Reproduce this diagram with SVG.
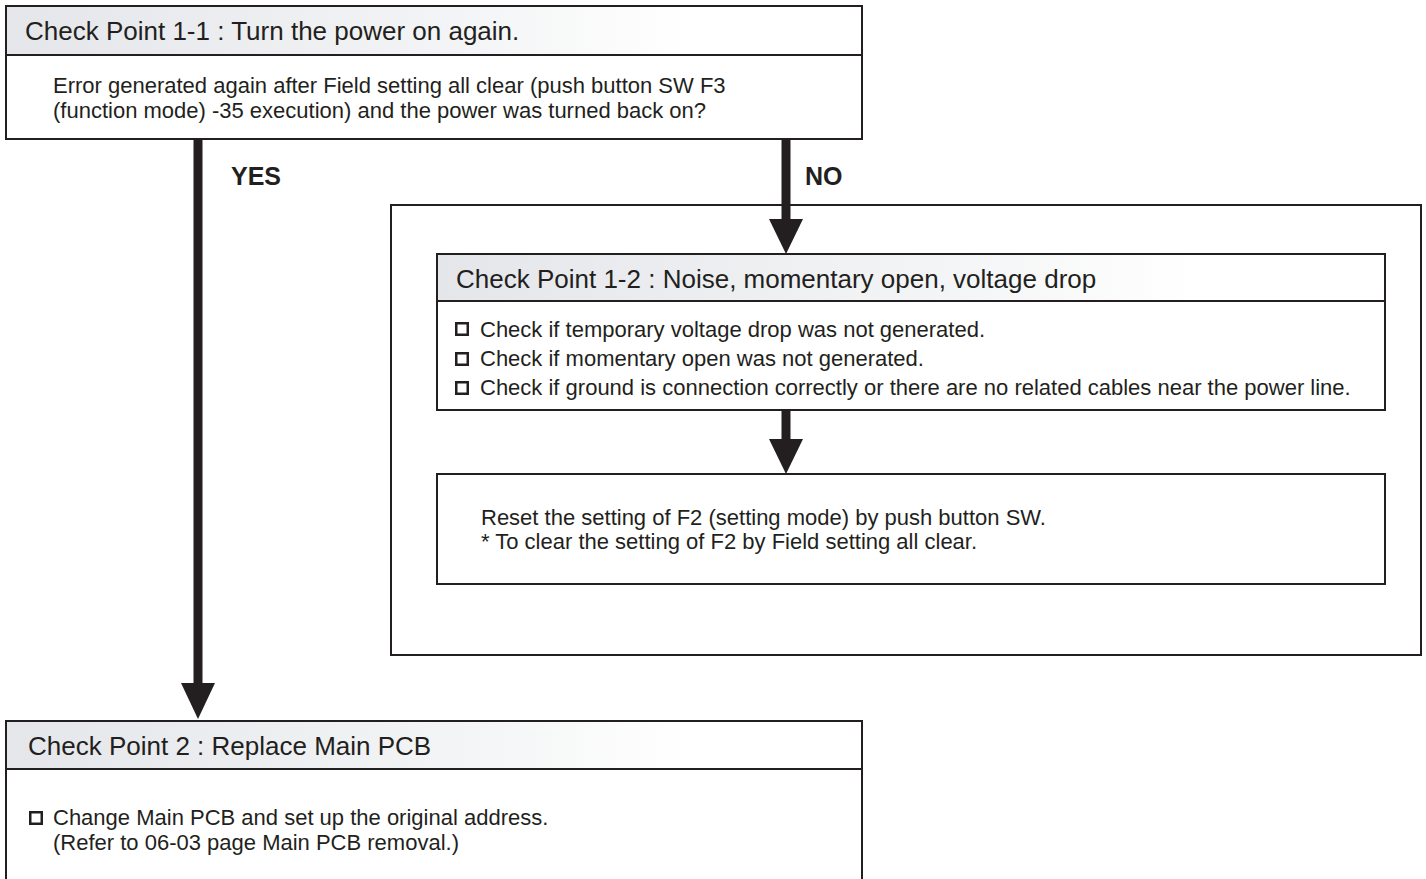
<svg xmlns="http://www.w3.org/2000/svg" width="1426" height="879" viewBox="0 0 1426 879">
<defs>
<linearGradient id="hg" x1="0" y1="0" x2="1" y2="0">
<stop offset="0" stop-color="#e4e6ea"/>
<stop offset="0.55" stop-color="#f4f5f6"/>
<stop offset="0.8" stop-color="#ffffff"/>
</linearGradient>
<symbol id="cb" viewBox="0 0 14 14"><rect x="1.25" y="1.25" width="11.5" height="11.5" fill="none" stroke="#231f20" stroke-width="2.5"/></symbol>
</defs>
<style>
.box{fill:#fff;stroke:#231f20;stroke-width:2}
.hdr{fill:url(#hg);stroke:#231f20;stroke-width:2}
.ht{font-family:"Liberation Sans",Arial,sans-serif;font-size:26px;fill:#231f20}
.bt{font-family:"Liberation Sans",Arial,sans-serif;font-size:22px;fill:#231f20}
.lb{font-family:"Liberation Sans",Arial,sans-serif;font-size:25px;font-weight:bold;fill:#231f20}
.shaft{stroke:#231f20;stroke-width:9;fill:none}
.head{fill:#231f20}
</style>
<rect width="1426" height="879" fill="#fff"/>
<g id="group-no">
<rect x="391" y="205" width="1030" height="450" class="box"/>
</g>
<g id="connectors">
<line x1="198" y1="139" x2="198" y2="686" class="shaft"/>
<polygon points="181,683 215,683 198,719" class="head"/>
<line x1="786" y1="139" x2="786" y2="222" class="shaft"/>
<polygon points="769,219 803,219 786,254" class="head"/>
<line x1="786" y1="410" x2="786" y2="442" class="shaft"/>
<polygon points="769,439 803,439 786,474" class="head"/>
<text x="231" y="185" class="lb">YES</text>
<text x="805" y="185" class="lb">NO</text>
</g>
<g id="cp11">
<rect x="6" y="6" width="856" height="133" class="box"/>
<rect x="6" y="6" width="856" height="49" class="hdr"/>
<text x="25" y="40" class="ht">Check Point 1-1 : Turn the power on again.</text>
<text x="53" y="93" class="bt">Error generated again after Field setting all clear (push button SW F3</text>
<text x="53" y="118" class="bt">(function mode) -35 execution) and the power was turned back on?</text>
</g>
<g id="cp12">
<rect x="437" y="254" width="948" height="156" class="box"/>
<rect x="437" y="254" width="948" height="47" class="hdr"/>
<text x="456" y="288" class="ht">Check Point 1-2 :  Noise, momentary open, voltage drop</text>
<use href="#cb" x="455" y="322" width="14" height="14"/>
<text x="480" y="337" class="bt">Check if temporary voltage drop was not generated.</text>
<use href="#cb" x="455" y="352" width="14" height="14"/>
<text x="480" y="366" class="bt">Check if momentary open was not generated.</text>
<use href="#cb" x="455" y="381" width="14" height="14"/>
<text x="480" y="395" class="bt">Check if ground is connection correctly or there are no related cables near the power line.</text>
</g>
<g id="reset">
<rect x="437" y="474" width="948" height="110" class="box"/>
<text x="481" y="525" class="bt">Reset the setting of F2 (setting mode) by push button SW.</text>
<text x="481" y="549" class="bt">* To clear the setting of F2 by Field setting all clear.</text>
</g>
<g id="cp2">
<rect x="6" y="721" width="856" height="170" class="box"/>
<rect x="6" y="721" width="856" height="48" class="hdr"/>
<text x="28" y="755" class="ht">Check Point 2 : Replace Main PCB</text>
<use href="#cb" x="29" y="811" width="14" height="14"/>
<text x="53" y="825" class="bt">Change Main PCB and set up the original address.</text>
<text x="53" y="850" class="bt">(Refer to 06-03 page Main PCB removal.)</text>
</g>
</svg>
